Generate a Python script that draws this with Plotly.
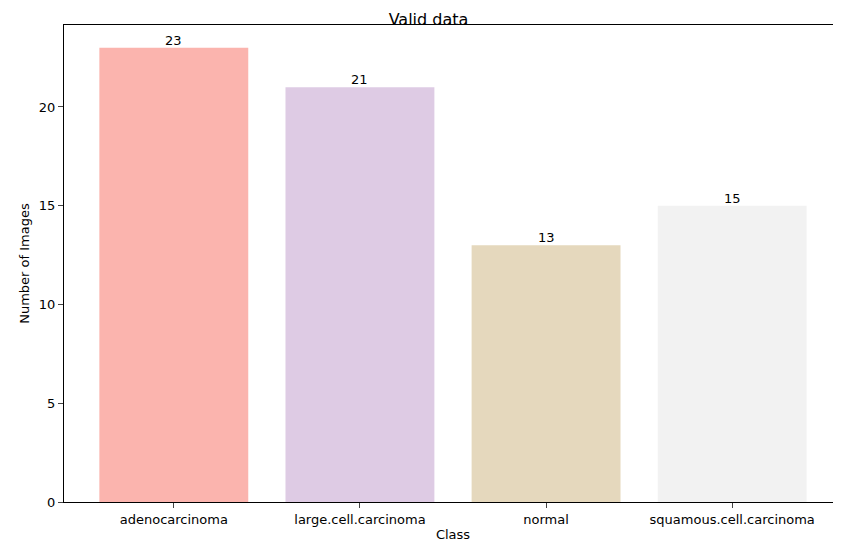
import plotly.graph_objects as go

categories = ["adenocarcinoma", "large.cell.carcinoma", "normal", "squamous.cell.carcinoma"]
counts = [23, 21, 13, 15]
colors = ["#fbb4ae", "#decbe4", "#e5d8bd", "#f2f2f2"]

fig = go.Figure(go.Bar(
    x=list(range(len(categories))), y=counts, width=0.8,
    marker=dict(color=colors, line=dict(width=0)),
))
for i, c in enumerate(counts):
    fig.add_annotation(x=i, y=c, text=str(c), showarrow=False, yanchor="bottom",
                       yshift=-2, font=dict(size=13, color="black"))
fig.update_layout(
    width=841, height=547, plot_bgcolor="white", paper_bgcolor="white",
    margin=dict(l=56, r=7, t=17, b=53, autoexpand=False),
    font=dict(family="DejaVu Sans", size=13, color="black"),
    title=dict(text="Valid data", x=0.5, xanchor="center", y=1, yanchor="top",
               pad=dict(t=6), font=dict(size=16)),
    showlegend=False,
)
axis_common = dict(showline=True, linecolor="black", linewidth=1, mirror=True,
                   ticks="outside", ticklen=5, showgrid=False, zeroline=False,
                   automargin=False, tickfont=dict(size=13))
fig.update_xaxes(range=[-0.59, 3.59], tickmode="array", tickvals=list(range(4)),
                 ticktext=categories, title=dict(text="Class", standoff=4, font=dict(size=13)),
                 **axis_common)
fig.update_yaxes(range=[0, 24.15], tickvals=[0, 5, 10, 15, 20],
                 title=dict(text="Number of Images", standoff=6, font=dict(size=13)),
                 **axis_common)
fig.write_html("out.html")
